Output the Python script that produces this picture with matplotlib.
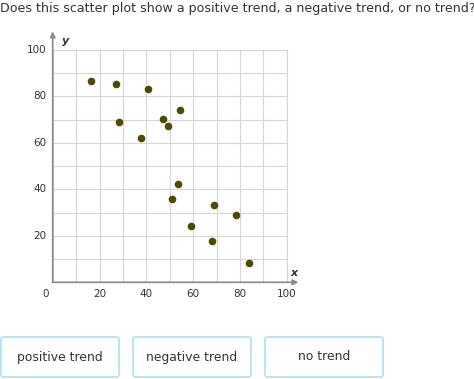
#!/usr/bin/env python3
"""Scatter plot question: positive, negative or no trend."""

import matplotlib
matplotlib.use("Agg")
import matplotlib.pyplot as plt
from matplotlib.patches import FancyBboxPatch

x_vals = [16.2, 27.1, 40.6, 28.2, 37.9, 47.2, 49.1, 54.6, 53.7, 51.0, 69.1, 78.5, 59.3, 68.1, 83.9]
y_vals = [86.5, 85.5, 83.4, 69.0, 62.1, 70.4, 67.4, 74.2, 42.2, 35.9, 33.1, 29.0, 24.1, 17.8, 8.2]
ticks = [20, 40, 60, 80, 100]
answers = ["positive trend", "negative trend", "no trend"]
question = "Does this scatter plot show a positive trend, a negative trend, or no trend?"

text_color = "#333333"
fig = plt.figure(figsize=(4.74, 3.79), dpi=100)
fig.text(0.0, 0.977, question, fontsize=9.1, color=text_color, va="center", ha="left")

ax = fig.add_axes([52.7 / 474, 96.7 / 379, 234 / 474, 232.3 / 379])
ax.set_xlim(0, 100)
ax.set_ylim(0, 100)
ax.set_xticks(range(0, 101, 10))
ax.set_yticks(range(0, 101, 10))
ax.grid(True, color="#d6d6d6", linewidth=0.8)
ax.set_axisbelow(True)
for side in ["top", "right"]:
    ax.spines[side].set_color("#d6d6d6")
    ax.spines[side].set_linewidth(0.8)
for side in ["left", "bottom"]:
    ax.spines[side].set_visible(False)
ax.tick_params(length=0, labelbottom=False, labelleft=False)

# axes with arrows
axis_color = "#8a8a8a"
ax.annotate("", xy=(0, 108), xytext=(0, 0), xycoords="data",
            arrowprops=dict(arrowstyle="-|>", color=axis_color, lw=1.2,
                            mutation_scale=8, shrinkA=0, shrinkB=0),
            annotation_clip=False)
ax.annotate("", xy=(105, 0), xytext=(0, 0), xycoords="data",
            arrowprops=dict(arrowstyle="-|>", color=axis_color, lw=1.2,
                            mutation_scale=8, shrinkA=0, shrinkB=0),
            annotation_clip=False)
ax.text(4, 104, "y", fontsize=8, fontweight="bold", style="italic",
        color=text_color, va="center", clip_on=False)
ax.text(103, 4, "x", fontsize=8, fontweight="bold", style="italic",
        color=text_color, ha="center", va="center", clip_on=False)

for t in ticks:
    ax.text(t, -5, str(t), fontsize=7.5, color=text_color, ha="center", va="center", clip_on=False)
    ax.text(-2.5, t, str(t), fontsize=7.5, color=text_color, ha="right", va="center", clip_on=False)
ax.text(-3, -5, "0", fontsize=7.5, color=text_color, ha="center", va="center", clip_on=False)

ax.scatter(x_vals, y_vals, s=20, color="#4f4a00", zorder=3, clip_on=False)

# answer buttons
box_lefts = [1, 133, 265]
for left, label in zip(box_lefts, answers):
    box = FancyBboxPatch((left / 474, 2 / 379), 118 / 474, 40 / 379,
                         boxstyle="round,pad=0,rounding_size=0.006",
                         transform=fig.transFigure, facecolor="white",
                         edgecolor="#b3e3f3", linewidth=1.3)
    fig.patches.append(box)
    fig.text((left + 59) / 474, 22 / 379, label, fontsize=8.9, color=text_color,
             ha="center", va="center")

fig.savefig("out.png", dpi=100)
